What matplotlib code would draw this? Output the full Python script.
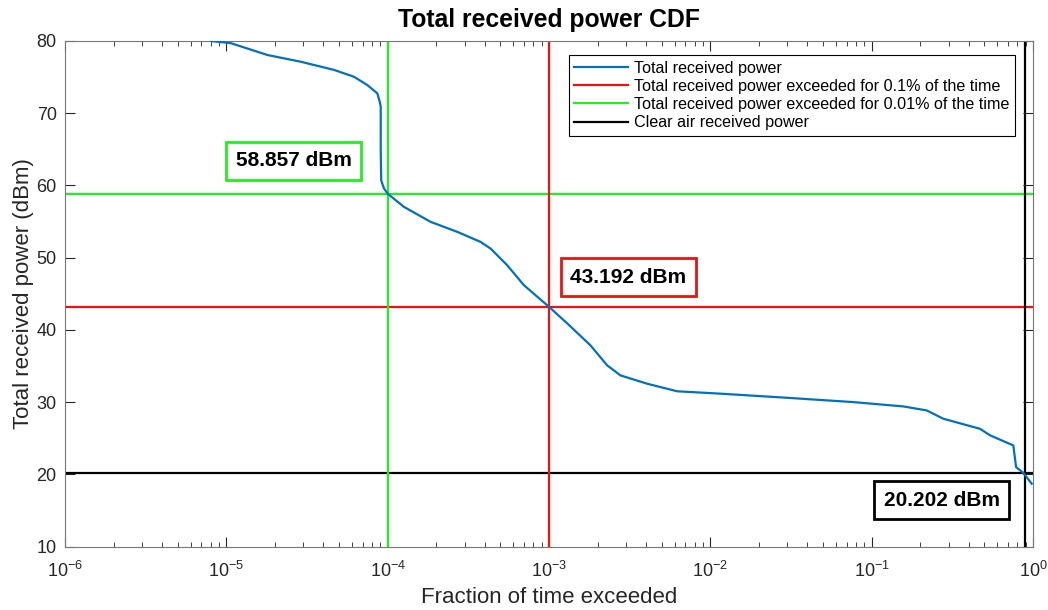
import numpy as np
import matplotlib
matplotlib.use("Agg")
import matplotlib.pyplot as plt

plt.rcParams['font.family'] = ['Liberation Sans', 'DejaVu Sans']
plt.rcParams['mathtext.fontset'] = 'custom'
plt.rcParams['mathtext.rm'] = 'Liberation Sans'

# curve: log10(fraction of time) vs received power (dBm)
log_frac = [-5.096, -4.972, -4.745, -4.539, -4.333, -4.209, -4.126, -4.064,
            -4.048, -4.043, -4.043, -4.040, -4.023, -4.0, -3.899, -3.733,
            -3.568, -3.424, -3.362, -3.259, -3.156, -3.0, -2.887, -2.743,
            -2.64, -2.557, -2.392, -2.206, -1.938, -1.525, -1.113, -0.803,
            -0.659, -0.556, -0.328, -0.266, -0.122, -0.105, -0.06, -0.008]
power_dbm = [80.0, 79.7, 78.06, 77.13, 76.0, 75.05, 73.9, 72.75,
             71.5, 70.9, 65.0, 60.7, 59.6, 58.857, 57.03, 54.95,
             53.57, 52.18, 51.26, 48.95, 46.2, 43.192, 40.9, 37.86,
             35.1, 33.7, 32.55, 31.5, 31.17, 30.6, 30.0, 29.4,
             28.85, 27.7, 26.3, 25.4, 24.0, 21.0, 20.2, 18.7]

p_001 = 58.857      # exceeded 0.01 % of the time
p_01 = 43.192       # exceeded 0.1 % of the time
p_clear = 20.202    # clear air
frac_clear = 0.89

frac = 10.0 ** np.array(log_frac)

fig = plt.figure(figsize=(10.48, 6.10), dpi=100)
ax = fig.add_axes([0.062, 0.104, 0.9237, 0.8288])

blue = '#0072BD'
red = '#ee1111'
green = '#22ee22'

ax.semilogx(frac, power_dbm, color=blue, lw=1.6, label='Total received power', zorder=5)
ax.axhline(p_01, color=red, lw=1.6, label='Total received power exceeded for 0.1% of the time')
ax.axhline(p_001, color=green, lw=1.6, label='Total received power exceeded for 0.01% of the time')
ax.axhline(p_clear, color='black', lw=1.6, label='Clear air received power')
ax.axvline(1e-3, color=red, lw=1.6)
ax.axvline(1e-4, color=green, lw=1.6)
ax.axvline(frac_clear, color='black', lw=1.6)

ax.set_xlim(1e-6, 1)
ax.set_ylim(10, 80)
ax.set_yticks(np.arange(10, 81, 10))

box_kw = dict(boxstyle='square,pad=0.45', fc='white', lw=2)
ax.text(10 ** -4.582, 63.4, '%.3f dBm' % p_001, fontsize=15, fontweight='bold',
        ha='center', va='center', bbox=dict(ec=green, **box_kw), zorder=6)
ax.text(10 ** -2.508, 47.3, '%.3f dBm' % p_01, fontsize=15, fontweight='bold',
        ha='center', va='center', bbox=dict(ec=red, **box_kw), zorder=6)
ax.text(10 ** -0.565, 16.4, '%.3f dBm' % p_clear, fontsize=15, fontweight='bold',
        ha='center', va='center', bbox=dict(ec='black', **box_kw), zorder=6)

ax.set_title('Total received power CDF', fontsize=17.8, fontweight='bold', pad=10)
ax.set_xlabel('Fraction of time exceeded', fontsize=16, color='#262626', labelpad=5)
ax.set_ylabel('Total received power (dBm)', fontsize=16, color='#262626', labelpad=2)

ax.tick_params(which='both', direction='in', top=True, right=True,
               labelsize=13, colors='#262626')
ax.tick_params(axis='x', which='major', pad=10)
ax.tick_params(axis='y', which='major', pad=6)
ax.tick_params(which='major', length=7)
ax.tick_params(which='minor', length=3.5)
for s in ax.spines.values():
    s.set_color('#777777')
    s.set_linewidth(0.8)

leg = ax.legend(loc='upper right', bbox_to_anchor=(0.9814, 0.9723), borderaxespad=0,
                fontsize=11.6, fancybox=False, edgecolor='black', framealpha=1,
                handlelength=3.3, handletextpad=0.4, labelspacing=0.2, borderpad=0.35)
leg.get_frame().set_linewidth(0.8)

fig.savefig('out.png', dpi=100)
